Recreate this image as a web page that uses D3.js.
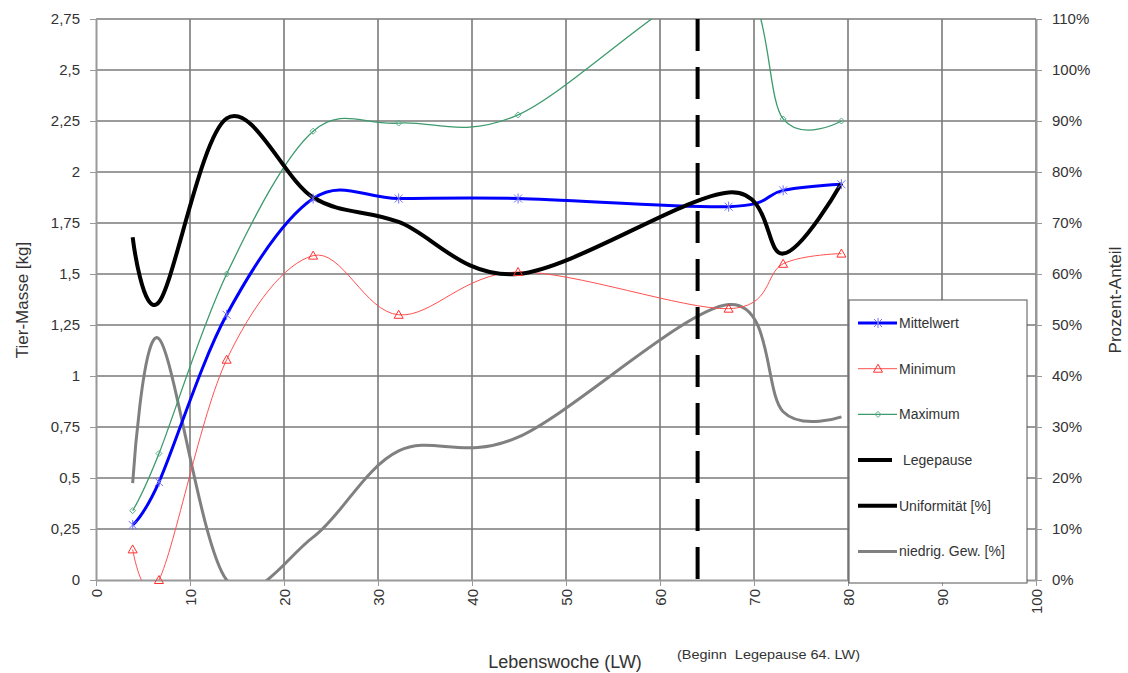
<!DOCTYPE html>
<html>
<head>
<meta charset="utf-8">
<script src="https://cdn.jsdelivr.net/npm/d3@7"></script>
<style>
  body { margin: 0; background: #fff; }
  text { font-family: "Liberation Sans", Arial, sans-serif; fill: #333; }
</style>
</head>
<body>
<div id="chart"></div>
<script>
// Lebenswochen of the weighings
const weeks = [3.9, 6.7, 13.9, 23.1, 32.2, 44.9, 67.3, 73.1, 79.3];

// Tier-Masse [kg]
const mittelwert = [0.27, 0.48, 1.30, 1.87, 1.87, 1.87, 1.83, 1.91, 1.94];
const minimum    = [0.15, 0.00, 1.08, 1.59, 1.30, 1.51, 1.33, 1.55, 1.60];
const maximum    = [0.34, 0.62, 1.50, 2.20, 2.24, 2.28, 2.95, 2.26, 2.25];

// Prozent-Anteil
const uniformitaet = [0.672, 0.545, 0.905, 0.75, 0.702, 0.60, 0.76, 0.64, 0.778];
const niedrigGew   = [0.19, 0.473, 0.0, 0.084, 0.253, 0.28, 0.54, 0.33, 0.32];

const legepauseWeek = 64;

const xTicks = d3.range(0, 101, 10);
const yTicks = d3.range(0, 2.76, 0.25);
const pTicks = d3.range(0, 1.101, 0.1);

const width = 1128, height = 673;
const margin = { top: 19, right: 92, bottom: 93, left: 96 };

const svg = d3.select("#chart").append("svg")
    .attr("width", width)
    .attr("height", height);

const x = d3.scaleLinear().domain([0, 100]).range([margin.left, width - margin.right]);
const y = d3.scaleLinear().domain([0, 2.75]).range([height - margin.bottom, margin.top]);
const yP = d3.scaleLinear().domain([0, 1.1]).range([height - margin.bottom, margin.top]);

const x0 = x.range()[0], x1 = x.range()[1];
const yb = y.range()[0], yt = y.range()[1];

// clip for the smoothed lines
svg.append("clipPath").attr("id", "plot")
    .append("rect")
    .attr("x", x0).attr("y", yt)
    .attr("width", x1 - x0).attr("height", yb - yt);

// grid
const grid = svg.append("g");
grid.selectAll(".gx").data(xTicks.slice(1))
    .enter().append("line")
    .attr("x1", d => x(d)).attr("x2", d => x(d))
    .attr("y1", yt).attr("y2", yb)
    .attr("stroke", "#7a7a7a").attr("stroke-width", 1.6);
grid.selectAll(".gy").data(yTicks.slice(1))
    .enter().append("line")
    .attr("x1", x0).attr("x2", x1)
    .attr("y1", d => y(d)).attr("y2", d => y(d))
    .attr("stroke", "#7a7a7a").attr("stroke-width", 1.6);

// axes
const fmtKg = d => String(+d.toFixed(2)).replace(".", ",");

const yAxis = svg.append("g")
    .attr("transform", `translate(${x0},0)`)
    .call(d3.axisLeft(y).tickValues(yTicks).tickFormat(fmtKg).tickSizeInner(6).tickSizeOuter(0).tickPadding(10));

const pAxis = svg.append("g")
    .attr("transform", `translate(${x1},0)`)
    .call(d3.axisRight(yP).tickValues(pTicks).tickFormat(d3.format(".0%")).tickSizeInner(6).tickSizeOuter(0).tickPadding(10));

const xAxis = svg.append("g")
    .attr("transform", `translate(0,${yb})`)
    .call(d3.axisBottom(x).tickValues(xTicks).tickSizeInner(6).tickSizeOuter(0).tickPadding(8));

[yAxis, pAxis, xAxis].forEach(a => {
    a.select(".domain").attr("stroke", "#999").attr("stroke-width", 2);
    a.selectAll(".tick line").attr("stroke", "#999");
    a.selectAll(".tick text")
        .style("font-family", "'Liberation Sans', Arial, sans-serif")
        .style("font-size", "15px")
        .attr("fill", "#333");
});

xAxis.selectAll(".tick text")
    .attr("transform", "rotate(-90)")
    .attr("text-anchor", "end")
    .attr("x", -9)
    .attr("y", 0)
    .attr("dy", "0.35em");

// axis titles
svg.append("text")
    .attr("transform", "rotate(-90)")
    .attr("x", -300).attr("y", 28)
    .attr("text-anchor", "middle")
    .style("font-size", "17px")
    .text("Tier-Masse [kg]");

svg.append("text")
    .attr("transform", "rotate(-90)")
    .attr("x", -300).attr("y", 1121)
    .attr("text-anchor", "middle")
    .style("font-size", "17px")
    .text("Prozent-Anteil");

svg.append("text")
    .attr("x", 565).attr("y", 668)
    .attr("text-anchor", "middle")
    .style("font-size", "18px")
    .text("Lebenswoche (LW)");

svg.append("text")
    .attr("x", 677).attr("y", 659)
    .style("font-size", "13.5px")
    .style("white-space", "pre")
    .attr("textLength", 183)
    .attr("lengthAdjust", "spacingAndGlyphs")
    .text("(Beginn  Legepause 64. LW)");

// lines
const smooth = d3.curveCardinal.tension(0);
const lineKg = d3.line().x((d, i) => x(weeks[i])).y(d => y(d)).curve(smooth);
const lineP = d3.line().x((d, i) => x(weeks[i])).y(d => yP(d)).curve(smooth);

const lines = svg.append("g").attr("clip-path", "url(#plot)");

lines.append("path").datum(niedrigGew).attr("d", lineP)
    .attr("fill", "none").attr("stroke", "#808080").attr("stroke-width", 3);
lines.append("path").datum(minimum).attr("d", lineKg)
    .attr("fill", "none").attr("stroke", "#ff5050").attr("stroke-width", 1);
lines.append("path").datum(maximum).attr("d", lineKg)
    .attr("fill", "none").attr("stroke", "#3c9a6e").attr("stroke-width", 1.3);
lines.append("path").datum(mittelwert).attr("d", lineKg)
    .attr("fill", "none").attr("stroke", "#0000ff").attr("stroke-width", 3);

// Legepause
svg.append("line")
    .attr("x1", x(legepauseWeek)).attr("x2", x(legepauseWeek))
    .attr("y1", yt).attr("y2", yb)
    .attr("stroke", "#000").attr("stroke-width", 4)
    .attr("stroke-dasharray", "32 16");

lines.append("path").datum(uniformitaet).attr("d", lineP)
    .attr("fill", "none").attr("stroke", "#000").attr("stroke-width", 4);

// markers
const star = "M-4,-4L4,4M-4,4L4,-4M0,-5L0,5";
const tri = "M0,-4.5L4.5,3.5L-4.5,3.5Z";
const dia = "M0,-3L3,0L0,3L-3,0Z";

function markers(values, shape, color) {
    svg.append("g").selectAll("path")
        .data(values.map((v, i) => [weeks[i], v]).filter(d => d[1] <= 2.75))
        .enter().append("path")
        .attr("transform", d => `translate(${x(d[0])},${y(d[1])})`)
        .attr("d", shape)
        .attr("fill", "none")
        .attr("stroke", color)
        .attr("stroke-width", 1);
}
markers(mittelwert, star, "#7070ff");
markers(minimum, tri, "#ff3030");
markers(maximum, dia, "#5aae88");

// legend
const legend = svg.append("g").attr("transform", "translate(849,300)");
legend.append("rect")
    .attr("width", 178).attr("height", 283)
    .attr("fill", "#fff").attr("stroke", "#555").attr("stroke-width", 1);

const legendItems = [
    { name: "Mittelwert", color: "#0000ff", w: 3, mark: star, mcol: "#7070ff" },
    { name: "Minimum", color: "#ff5050", w: 1, mark: tri, mcol: "#ff3030" },
    { name: "Maximum", color: "#3c9a6e", w: 1.3, mark: dia, mcol: "#5aae88" },
    { name: "Legepause", color: "#000", w: 4, mark: null, short: true },
    { name: "Uniformität [%]", color: "#000", w: 4, mark: null },
    { name: "niedrig. Gew. [%]", color: "#808080", w: 3, mark: null }
];

legendItems.forEach((it, i) => {
    const ly = 23 + i * 45.7;
    legend.append("line")
        .attr("x1", 9).attr("x2", it.short ? 43 : 48)
        .attr("y1", ly).attr("y2", ly)
        .attr("stroke", it.color).attr("stroke-width", it.w);
    if (it.mark) {
        legend.append("path")
            .attr("transform", `translate(29,${ly})`)
            .attr("d", it.mark)
            .attr("fill", "none").attr("stroke", it.mcol);
    }
    legend.append("text")
        .attr("x", it.short ? 54 : 50).attr("y", ly)
        .attr("dy", "0.35em")
        .style("font-size", "14px")
        .attr("fill", "#222")
        .text(it.name);
});
</script>
</body>
</html>
